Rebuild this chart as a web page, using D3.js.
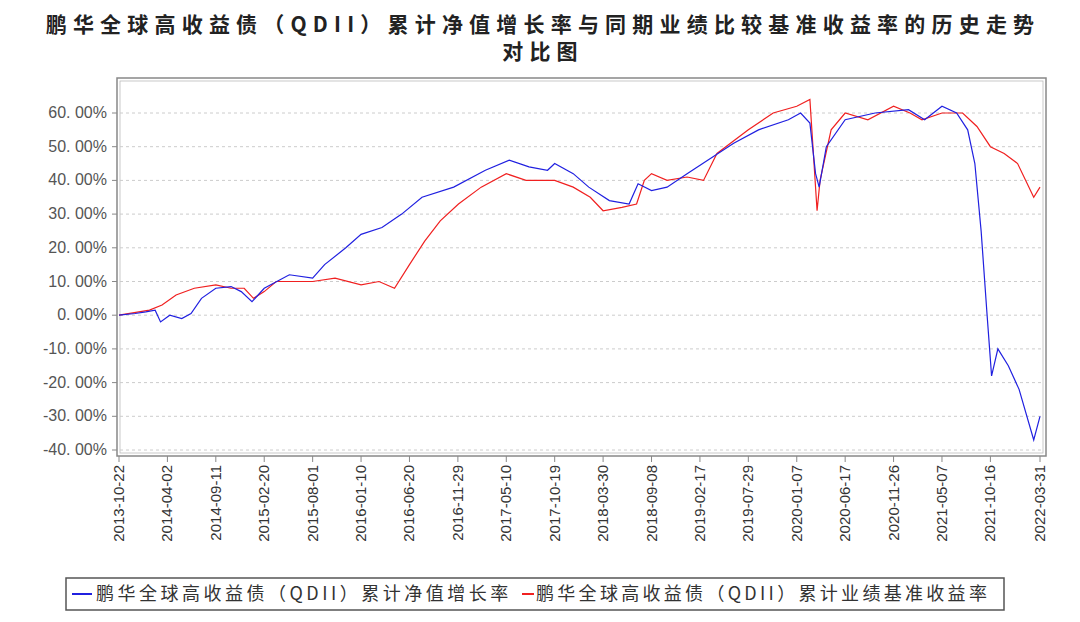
<!DOCTYPE html><html><head><meta charset="utf-8"><script src="https://cdn.jsdelivr.net/npm/d3@7"></script>
<style>body{margin:0;background:#fff}</style></head><body><svg id="c" width="1080" height="622"></svg><script>
const titleLines=["鹏华全球高收益债（QDII）累计净值增长率与同期业绩比较基准收益率的历史走势","对比图"];
const seriesNames=["鹏华全球高收益债（QDII）累计净值增长率","鹏华全球高收益债（QDII）累计业绩基准收益率"];
const xTickLabels=["2013-10-22","2014-04-02","2014-09-11","2015-02-20","2015-08-01","2016-01-10","2016-06-20","2016-11-29","2017-05-10","2017-10-19","2018-03-30","2018-09-08","2019-02-17","2019-07-29","2020-01-07","2020-06-17","2020-11-26","2021-05-07","2021-10-16","2022-03-31"];
const yTicks=[60,50,40,30,20,10,0,-10,-20,-30,-40];
const fundDates=["2013-10-22","2013-12-15","2014-01-20","2014-02-20","2014-03-10","2014-04-10","2014-05-20","2014-06-20","2014-07-25","2014-09-11","2014-11-01","2014-12-05","2015-01-10","2015-02-20","2015-05-15","2015-08-01","2015-09-10","2015-11-20","2016-01-10","2016-03-20","2016-05-25","2016-08-01","2016-11-15","2017-03-01","2017-05-20","2017-07-25","2017-09-25","2017-10-19","2017-12-20","2018-02-10","2018-04-20","2018-06-25","2018-07-25","2018-09-08","2018-10-30","2019-01-05","2019-03-15","2019-06-10","2019-09-01","2019-12-10","2020-01-20","2020-02-20","2020-03-10","2020-03-22","2020-04-15","2020-06-17","2020-09-25","2021-01-15","2021-03-10","2021-05-07","2021-06-25","2021-08-01","2021-08-25","2021-09-15","2021-10-05","2021-10-20","2021-11-10","2021-12-15","2022-01-20","2022-03-10","2022-03-31"];
const fundValues=[0,0.5,1,1.5,-2,0,-1,0.5,5,8,8.5,7,4,8,12,11,15,20,24,26,30,35,38,43,46,44,43,45,42,38,34,33,39,37,38,42,46,51,55,58,60,57,42,38,50,58,60,61,58,62,60,55,45,25,0,-18,-10,-15,-22,-37,-30];
const benchDates=["2013-10-22","2014-02-01","2014-03-15","2014-05-01","2014-07-01","2014-09-11","2014-11-01","2014-12-15","2015-01-15","2015-02-20","2015-04-01","2015-08-01","2015-10-15","2016-01-10","2016-03-10","2016-05-01","2016-06-20","2016-08-10","2016-10-01","2016-12-01","2017-02-15","2017-05-10","2017-07-15","2017-10-19","2017-12-20","2018-02-15","2018-03-30","2018-06-01","2018-07-20","2018-08-15","2018-09-08","2018-10-30","2019-01-05","2019-03-01","2019-04-15","2019-07-29","2019-10-20","2020-01-07","2020-02-20","2020-03-15","2020-03-25","2020-05-01","2020-06-17","2020-09-01","2020-11-26","2021-01-20","2021-03-01","2021-05-07","2021-07-15","2021-09-01","2021-10-16","2021-12-01","2022-01-15","2022-03-10","2022-03-31"];
const benchValues=[0,1.5,3,6,8,9,8,8,5,7,10,10,11,9,10,8,15,22,28,33,38,42,40,40,38,35,31,32,33,40,42,40,41,40,48,55,60,62,64,31,40,55,60,58,62,60,58,60,60,56,50,48,45,35,38];

const svg=d3.select("#c");
const P=d3.timeParse("%Y-%m-%d");
const L=117,R=1046,T=78,B=456;
const x=d3.scaleTime().domain([P(xTickLabels[0]),P(xTickLabels[xTickLabels.length-1])]).range([119,1040]);
const y=d3.scaleLinear().domain([-40,60]).range([450,113]);
svg.selectAll("text.t").data(titleLines).join("text").attr("x",543).attr("y",(d,i)=>32+i*27).attr("text-anchor","middle")
 .attr("font-family","Noto Sans CJK SC").attr("font-weight","bold").attr("font-size",21).attr("letter-spacing",6.2).attr("fill","#222").text(d=>d);
svg.append("rect").attr("x",L).attr("y",T).attr("width",R-L).attr("height",B-T).attr("fill","none").attr("stroke","#888").attr("stroke-width",1.5);
svg.append("rect").attr("x",L+3).attr("y",T+3).attr("width",R-L-6).attr("height",B-T-6).attr("fill","none").attr("stroke","#bbb").attr("stroke-width",0.8);
svg.selectAll("line.g").data(yTicks).join("line").attr("x1",L+3).attr("x2",R-3).attr("y1",d=>y(d)).attr("y2",d=>y(d)).attr("stroke","#ccc").attr("stroke-dasharray","3,3");
svg.selectAll("line.yt").data(yTicks).join("line").attr("x1",L-5).attr("x2",L).attr("y1",d=>y(d)).attr("y2",d=>y(d)).attr("stroke","#888");
svg.selectAll("text.yl").data(yTicks).join("text").attr("x",L-10).attr("y",d=>y(d)+5).attr("text-anchor","end").attr("font-family","Liberation Sans").attr("font-size",16).attr("fill","#555").text(d=>d.toFixed(2).replace(".",". ")+"%");
svg.selectAll("line.xt").data(xTickLabels).join("line").attr("x1",d=>x(P(d))).attr("x2",d=>x(P(d))).attr("y1",B).attr("y2",B+6).attr("stroke","#888");
svg.selectAll("text.xl").data(xTickLabels).join("text").attr("transform",d=>`translate(${x(P(d))+5},${B+9}) rotate(-90)`).attr("text-anchor","end").attr("font-family","Liberation Sans").attr("font-size",15).attr("fill","#333").text(d=>d);
const line=d3.line().x(d=>x(d[0])).y(d=>y(d[1]));
svg.append("path").attr("d",line(benchDates.map((d,i)=>[P(d),benchValues[i]]))).attr("fill","none").attr("stroke","#f02020").attr("stroke-width",1.2);
svg.append("path").attr("d",line(fundDates.map((d,i)=>[P(d),fundValues[i]]))).attr("fill","none").attr("stroke","#2020e0").attr("stroke-width",1.2);
svg.append("rect").attr("x",66).attr("y",578).attr("width",938).attr("height",32).attr("fill","none").attr("stroke","#555").attr("stroke-width",1.5);
svg.append("line").attr("x1",72).attr("x2",92).attr("y1",594).attr("y2",594).attr("stroke","#2020e0").attr("stroke-width",2);
svg.append("text").attr("x",96).attr("y",600).attr("font-family","Noto Sans CJK SC").attr("font-size",18).attr("letter-spacing",3.5).attr("fill","#333").text(seriesNames[0]);
svg.append("line").attr("x1",522).attr("x2",534).attr("y1",594).attr("y2",594).attr("stroke","#f02020").attr("stroke-width",2);
svg.append("text").attr("x",536).attr("y",600).attr("font-family","Noto Sans CJK SC").attr("font-size",18).attr("letter-spacing",3.3).attr("fill","#333").text(seriesNames[1]);
</script></body></html>
